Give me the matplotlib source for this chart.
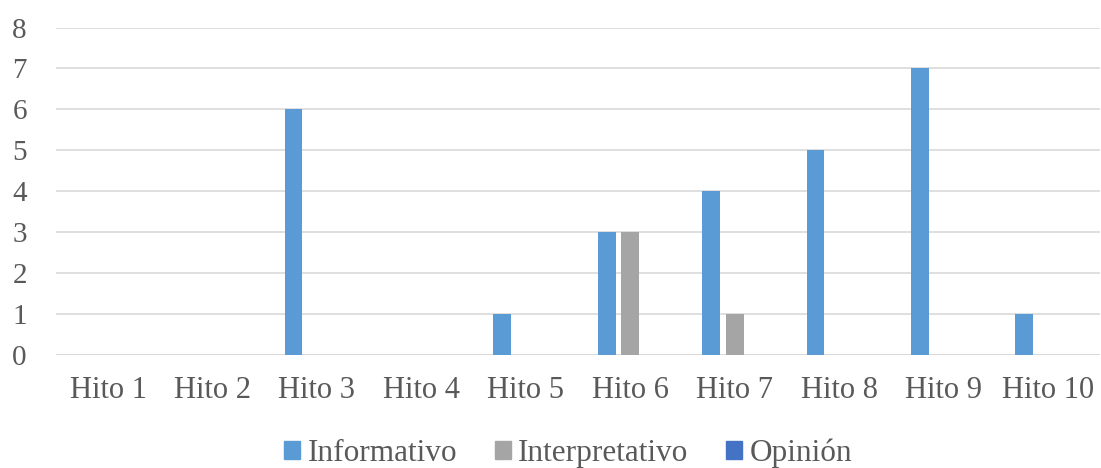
import matplotlib.pyplot as plt
import numpy as np
from matplotlib.patches import Patch

categorias = ['Hito 1', 'Hito 2', 'Hito 3', 'Hito 4', 'Hito 5',
              'Hito 6', 'Hito 7', 'Hito 8', 'Hito 9', 'Hito 10']
informativo = [0, 0, 6, 0, 1, 3, 4, 5, 7, 1]
interpretativo = [0, 0, 0, 0, 0, 3, 1, 0, 0, 0]
opinion = [0, 0, 0, 0, 0, 0, 0, 0, 0, 0]
series = ['Informativo', 'Interpretativo', 'Opinión']
colores = ['#5B9BD5', '#A5A5A5', '#4472C4']

plt.rcParams['font.family'] = ['Liberation Serif', 'DejaVu Serif']
txt = '#595959'

fig = plt.figure(figsize=(11.01, 4.68), dpi=100)
W, H = 1101, 468
ax = fig.add_axes([56 / W, 1 - 355 / H, 1044 / W, (355 - 27.5) / H])

x = np.arange(len(categorias))
ancho = 0.172
paso = 0.225
for i, (vals, col) in enumerate(zip([informativo, interpretativo, opinion], colores)):
    ax.bar(x + (i - 1) * paso, vals, width=ancho, color=col, zorder=3)

ax.set_xlim(-0.5, len(categorias) - 0.5)
ax.set_ylim(0, 8)
ax.set_yticks(range(9))
ax.yaxis.grid(True, color='#D9D9D9', linewidth=1.2, zorder=0)
ax.set_axisbelow(True)
for s in ax.spines.values():
    s.set_visible(False)
ax.axhline(0, color='#D9D9D9', linewidth=1.2, zorder=1)
ax.tick_params(axis='both', length=0, colors=txt)
ax.tick_params(axis='y', pad=21, labelsize=21)
ax.tick_params(axis='x', pad=15, labelsize=22)
ax.set_xticks(x)
ax.set_xticklabels(categorias)

handles = [Patch(color=c, label=s) for s, c in zip(series, colores)]
fig.legend(handles=handles, loc='center', bbox_to_anchor=(0.516, 1 - 453 / H),
           ncol=3, frameon=False, fontsize=22.5, labelcolor=txt,
           handlelength=0.51, handleheight=0.51, handletextpad=0.24,
           columnspacing=1.2, borderpad=0)

fig.savefig('out.png', dpi=100)
